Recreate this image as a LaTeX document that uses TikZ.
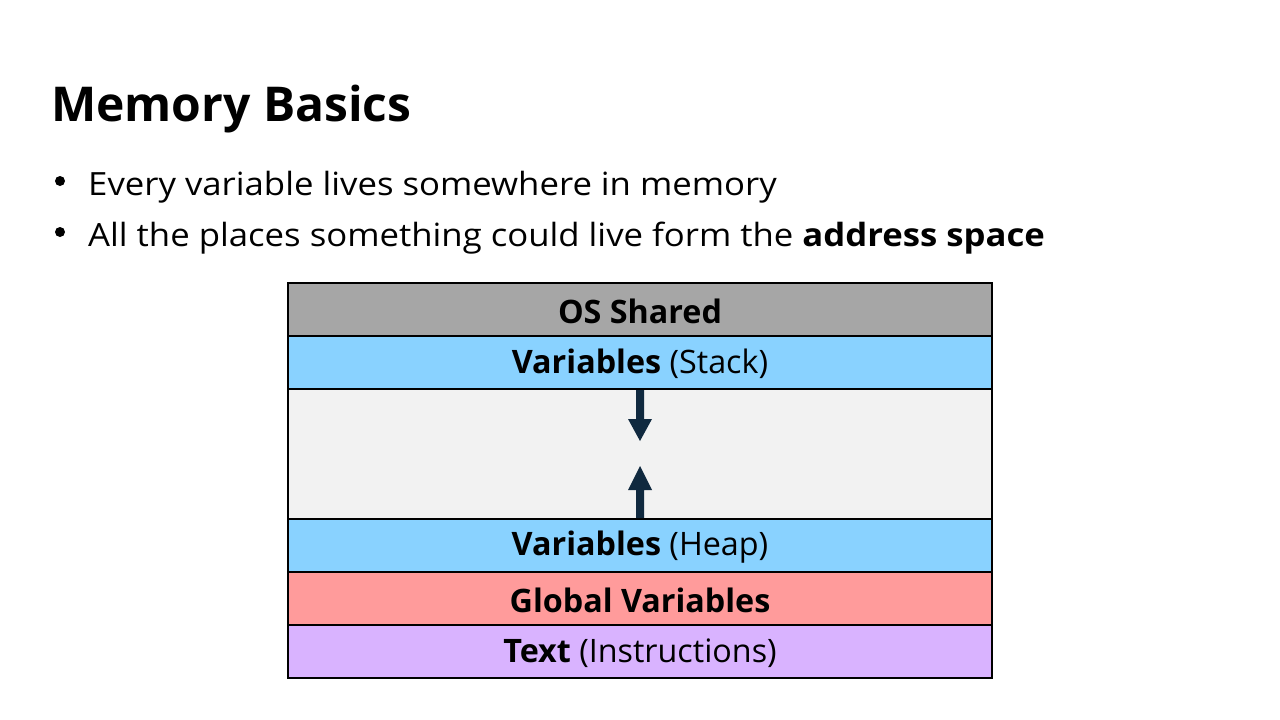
\documentclass[tikz,border=0pt]{standalone}
\usepackage{fontspec}
\setmainfont{Open Sans}
\newfontfamily\widefont[FakeStretch=1.085]{Open Sans}
\definecolor{osgray}{HTML}{A6A6A6}
\definecolor{varblue}{HTML}{89D2FF}
\definecolor{gapgray}{HTML}{F2F2F2}
\definecolor{globred}{HTML}{FF9B9B}
\definecolor{textpurple}{HTML}{D9B3FF}
\definecolor{arrownavy}{HTML}{10293F}
\tikzset{
  x=1pt,y=-1pt,
  seg/.style={draw=black,line width=1.6pt},
  segtext/.style={font=\fontsize{32.3}{38}\selectfont,anchor=center,inner sep=0pt,yshift=-1.5pt},
  bodytext/.style={font=\widefont\fontsize{32}{38}\selectfont,anchor=base west,inner sep=0pt},
  navyarrow/.style={fill=arrownavy,draw=none}
}
\begin{document}
\begin{tikzpicture}
\useasboundingbox[fill=white] (0,0) rectangle (1280,720);
\node[font=\bfseries\fontsize{48}{56}\selectfont,anchor=base west,inner sep=0pt] (title) at (51,121) {Memory Basics};
\node[bodytext] (b1) at (88,195) {Every variable lives somewhere in memory};
\node[bodytext] (b2) at (88,246) {All the places something could live form the \textbf{address space}};
\fill (60,181) circle (5) coordinate (d1);
\fill (60,232) circle (5) coordinate (d2);
% segments
\path[seg,fill=osgray] (288,283) rectangle (992,336);
\path[seg,fill=varblue] (288,336) rectangle (992,389);
\path[seg,fill=gapgray] (288,389) rectangle (992,519);
\path[seg,fill=varblue] (288,519) rectangle (992,572);
\path[seg,fill=globred] (288,572) rectangle (992,625);
\path[seg,fill=textpurple] (288,625) rectangle (992,678);
\node[segtext] (os) at (640,309.5) {\bfseries OS Shared};
\node[segtext] (stack) at (640,362.5) {\textbf{Variables} (Stack)};
\node[segtext] (heap) at (640,545.5) {\textbf{Variables} (Heap)};
\node[segtext] (glob) at (640,598.5) {\bfseries Global Variables};
\node[segtext] (txt) at (640,651.5) {\textbf{Text} (Instructions)};
% arrows
\fill[navyarrow] (636,390) -- (644,390) -- (644,419) -- (652,419) -- (640,441) -- (628,419) -- (636,419) -- cycle;
\fill[navyarrow] (636,518) -- (644,518) -- (644,490) -- (652,490) -- (640,466) -- (628,490) -- (636,490) -- cycle;
\end{tikzpicture}
\end{document}
